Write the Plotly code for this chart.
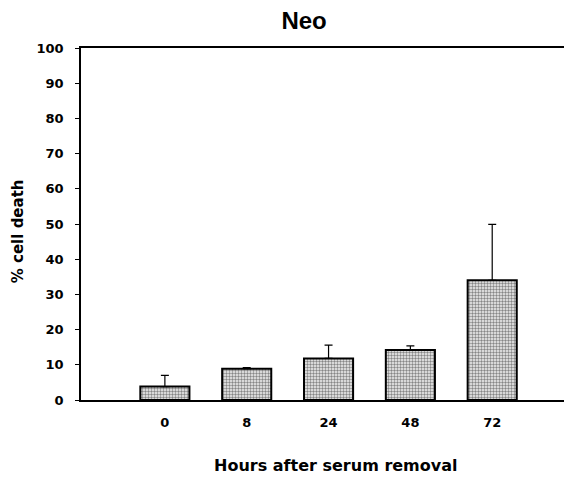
import plotly.graph_objects as go

hours = ["0", "8", "24", "48", "72"]
cell_death = [3.8, 8.9, 11.8, 14.2, 34.0]
err_plus = [3.2, 0.3, 3.8, 1.2, 15.9]
y_ticks = [0, 10, 20, 30, 40, 50, 60, 70, 80, 90, 100]

arial = "Liberation Sans, Arial, sans-serif"
dejavu = "DejaVu Sans, sans-serif"

fig = go.Figure(go.Bar(
    x=hours, y=cell_death,
    width=0.6,
    marker=dict(
        color="#eeeeee",
        line=dict(color="black", width=2),
        pattern=dict(shape=".", fgcolor="#1a1a1a", bgcolor="#f2f2f2", size=3, solidity=0.5),
    ),
    error_y=dict(type="data", array=err_plus, arrayminus=[0]*5, symmetric=False,
                 color="black", thickness=1.2, width=4),
))

fig.update_layout(
    width=564, height=473,
    margin=dict(l=73, r=0, t=40, b=81, autoexpand=False),
    paper_bgcolor="white", plot_bgcolor="white",
    showlegend=False,
    title=dict(text="<b>Neo</b>", x=0.525, xanchor="center", y=0.974, yanchor="middle",
               font=dict(family=arial, size=24, color="black", weight="bold")),
    font=dict(family=dejavu, color="black"),
    annotations=[
        dict(text="<b>Hours after serum removal</b>", xref="paper", yref="paper",
             x=0.52, y=-0.185, xanchor="center", yanchor="middle", showarrow=False,
             font=dict(family=dejavu, size=16, color="black")),
        dict(text="<b>% cell death</b>", xref="paper", yref="paper", textangle=-90,
             x=-0.128, y=0.48, xanchor="center", yanchor="middle", showarrow=False,
             font=dict(family=dejavu, size=15, color="black")),
    ],
)
fig.update_xaxes(
    range=[-1.025, 4.975], showline=True, linecolor="black", linewidth=2, mirror=True,
    ticks="", showgrid=False, ticklabelstandoff=9, automargin=False,
    tickfont=dict(family=dejavu, size=13, color="black", weight="bold"),
)
fig.update_yaxes(
    range=[0, 100], tickvals=y_ticks, showline=True, linecolor="black", linewidth=1.5,
    ticks="outside", ticklen=4, tickcolor="black", showgrid=False, zeroline=False,
    automargin=False,
    tickfont=dict(family=dejavu, size=13, color="black", weight="bold"),
    ticklabelstandoff=9,
)

fig.write_html("out.html")
